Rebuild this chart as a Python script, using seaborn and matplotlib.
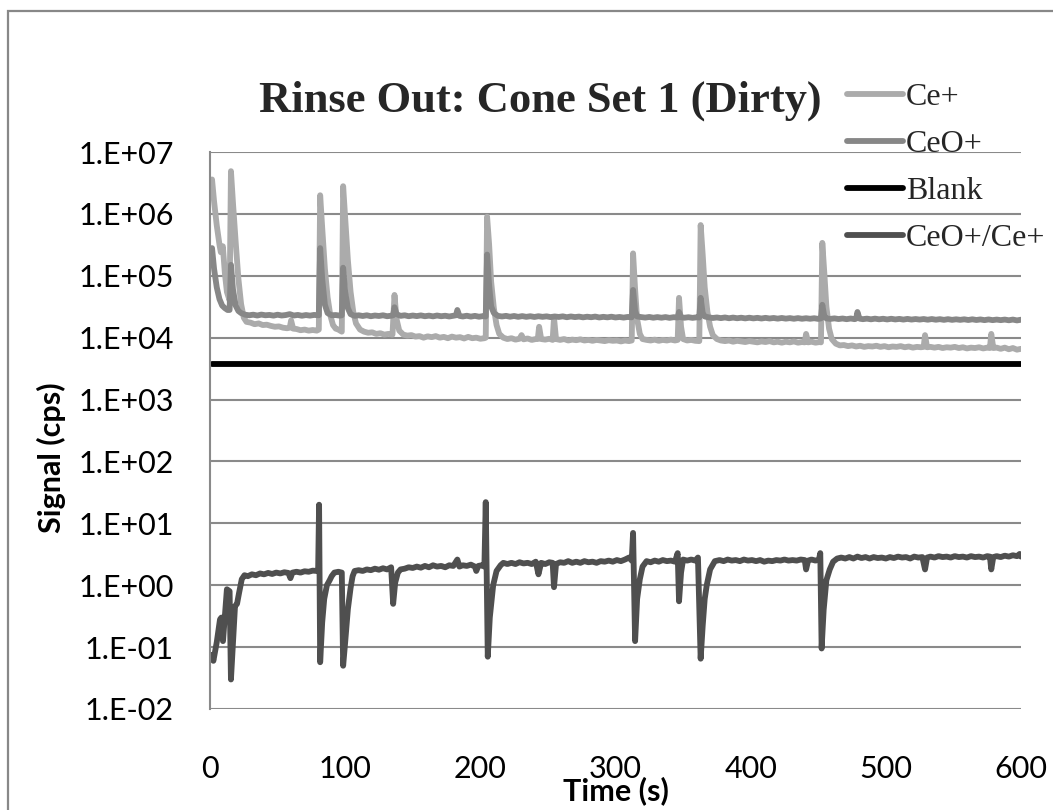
import matplotlib
matplotlib.use("Agg")
import matplotlib.pyplot as plt
import numpy as np
import pandas as pd
import seaborn as sns
from matplotlib.ticker import FixedLocator, FuncFormatter, NullLocator
from matplotlib.patches import Rectangle

# ---------------- data (time s, signal cps) ----------------
title = "Rinse Out: Cone Set 1 (Dirty)"
series_names = ["Ce+", "CeO+", "Blank", "CeO+/Ce+"]
series_colors = ["#ababab", "#878787", "#000000", "#4f4f4f"]
x_ticks = [0, 100, 200, 300, 400, 500, 600]
y_exponents = [-2, -1, 0, 1, 2, 3, 4, 5, 6, 7]

ce_points = [
    (1.5, 3.6e6), (3, 1.6e6), (5, 6.5e5), (7, 3.2e5), (8, 2.4e5), (9.5, 3.0e5), (11, 1.1e5),
    (12.5, 5.5e4), (14.5, 4.0e4), (15.5, 4.9e6), (17, 1.5e6), (19, 3.5e5), (21, 9e4), (23, 3.5e4),
    (25, 2.1e4), (27, 1.8e4), (30, 1.75e4), (33, 1.65e4), (36, 1.7e4), (39, 1.6e4), (42, 1.62e4),
    (45, 1.55e4), (48, 1.5e4), (51, 1.52e4), (54, 1.45e4), (57, 1.42e4), (59, 1.45e4), (60, 1.9e4),
    (61.5, 1.4e4), (64, 1.38e4), (67, 1.32e4), (70, 1.35e4), (73, 1.3e4), (76, 1.33e4), (79, 1.3e4),
    (80.5, 1.35e4), (81.5, 2.0e6), (83, 6e5), (85, 1.3e5), (87, 4.5e4), (89, 2.3e4), (91, 1.6e4),
    (93, 1.4e4), (95, 1.35e4), (97.5, 1.25e4), (98.5, 2.8e6), (100, 8.5e5), (102, 1.8e5),
    (104, 5.5e4), (106, 2.6e4), (108, 1.7e4), (111, 1.35e4), (114, 1.25e4), (117, 1.2e4),
    (120, 1.22e4), (123, 1.15e4), (126, 1.18e4), (129, 1.12e4), (132, 1.15e4), (135, 1.12e4),
    (136.5, 4.9e4), (138, 2.0e4), (140, 1.3e4), (143, 1.12e4), (146, 1.08e4), (149, 1.1e4),
    (152, 1.04e4), (155, 1.06e4), (158, 1.0e4), (161, 1.05e4), (164, 1.02e4), (167, 1.06e4),
    (170, 1.0e4), (173, 1.03e4), (176, 0.98e4), (179, 1.04e4), (182, 1.0e4), (185, 1.02e4),
    (188, 0.97e4), (191, 1.03e4), (194, 0.98e4), (197, 1.0e4), (200, 0.96e4), (203, 0.98e4),
    (204, 1.0e4), (205, 9e5), (206.5, 3.2e5), (208, 8e4), (210, 3e4), (212, 1.6e4), (214, 1.15e4),
    (217, 1.0e4), (220, 0.95e4), (223, 0.98e4), (226, 0.93e4), (229, 0.96e4), (230.5, 1.1e4),
    (232, 0.94e4), (235, 0.97e4), (238, 0.92e4), (241, 0.95e4), (242.5, 0.95e4), (243.5, 1.5e4),
    (245, 0.95e4), (248, 0.93e4), (251, 0.96e4), (253.5, 0.92e4), (254.5, 2.1e4), (256, 0.95e4),
    (259, 0.92e4), (262, 0.95e4), (265, 0.9e4), (268, 0.93e4), (271, 0.91e4), (274, 0.94e4),
    (277, 0.9e4), (280, 0.92e4), (283, 0.89e4), (286, 0.92e4), (289, 0.9e4), (292, 0.88e4),
    (295, 0.91e4), (298, 0.89e4), (301, 0.9e4), (304, 0.87e4), (307, 0.9e4), (310, 0.88e4),
    (312, 0.9e4), (313, 2.3e5), (314.5, 6e4), (316, 2.0e4), (318, 1.15e4), (320, 0.95e4),
    (323, 0.92e4), (326, 0.9e4), (329, 0.93e4), (332, 0.89e4), (335, 0.92e4), (338, 0.9e4),
    (341, 0.93e4), (344, 0.9e4), (346, 0.92e4), (347, 4.4e4), (348.5, 1.5e4), (350, 0.95e4),
    (353, 0.9e4), (356, 0.92e4), (359, 0.89e4), (362, 0.88e4), (363, 6.6e5), (364.5, 2.2e5),
    (366, 6.5e4), (368, 2.6e4), (370, 1.5e4), (372, 1.1e4), (375, 0.95e4), (378, 0.9e4),
    (381, 0.88e4), (384, 0.9e4), (387, 0.86e4), (390, 0.89e4), (393, 0.87e4), (396, 0.85e4),
    (399, 0.88e4), (402, 0.86e4), (405, 0.84e4), (408, 0.87e4), (411, 0.85e4), (414, 0.88e4),
    (417, 0.84e4), (420, 0.86e4), (423, 0.83e4), (426, 0.86e4), (429, 0.84e4), (432, 0.87e4),
    (435, 0.83e4), (438, 0.85e4), (440, 0.84e4), (441, 1.15e4), (442.5, 0.84e4), (445, 0.86e4),
    (448, 0.83e4), (451, 0.85e4), (452, 0.84e4), (453, 3.4e5), (454.5, 1.1e5), (456, 3.2e4),
    (458, 1.4e4), (460, 9.5e3), (463, 8e3), (466, 7.5e3), (469, 7.6e3), (472, 7.3e3), (475, 7.5e3),
    (478, 7.2e3), (481, 7.4e3), (484, 7.1e3), (487, 7.3e3), (490, 7.2e3), (493, 7.4e3),
    (496, 7.1e3), (499, 7.3e3), (502, 7.0e3), (505, 7.2e3), (508, 7.1e3), (511, 7.3e3),
    (514, 7.0e3), (517, 7.2e3), (520, 6.9e3), (523, 7.1e3), (526, 7.0e3), (528, 7.1e3),
    (529, 1.1e4), (530.5, 7.0e3), (533, 7.1e3), (536, 6.9e3), (539, 7.1e3), (542, 6.8e3),
    (545, 7.0e3), (548, 6.9e3), (551, 7.1e3), (554, 6.8e3), (557, 7.0e3), (560, 6.7e3),
    (563, 6.9e3), (566, 6.8e3), (569, 7.0e3), (572, 6.7e3), (575, 6.9e3), (577, 6.8e3),
    (578, 1.15e4), (579.5, 6.8e3), (582, 6.9e3), (585, 6.6e3), (588, 6.9e3), (591, 6.5e3),
    (594, 6.8e3), (597, 6.4e3), (600, 6.6e3),
]

ceo_points = [
    (1.5, 2.8e5), (3, 1.3e5), (5, 6.5e4), (7, 4.2e4), (9, 3.3e4), (11, 3.0e4), (13, 2.8e4),
    (14.5, 2.8e4), (15.5, 1.5e5), (17, 6e4), (19, 3.3e4), (21, 2.7e4), (23, 2.5e4), (26, 2.35e4),
    (29, 2.3e4), (32, 2.35e4), (35, 2.28e4), (38, 2.36e4), (41, 2.3e4), (44, 2.33e4), (47, 2.27e4),
    (50, 2.35e4), (53, 2.28e4), (56, 2.32e4), (59, 2.4e4), (62, 2.28e4), (65, 2.33e4),
    (68, 2.26e4), (71, 2.32e4), (74, 2.27e4), (77, 2.33e4), (80.5, 2.3e4), (81.5, 2.8e5),
    (83, 9e4), (85, 3.4e4), (87, 2.5e4), (90, 2.3e4), (93, 2.32e4), (96, 2.27e4), (97.5, 2.3e4),
    (98.5, 1.35e5), (100, 5.5e4), (102, 3e4), (104, 2.4e4), (107, 2.25e4), (110, 2.3e4),
    (113, 2.24e4), (116, 2.3e4), (119, 2.22e4), (122, 2.28e4), (125, 2.24e4), (128, 2.3e4),
    (131, 2.22e4), (134, 2.26e4), (135.5, 2.3e4), (136.5, 3.1e4), (138, 2.4e4), (141, 2.25e4),
    (144, 2.3e4), (147, 2.22e4), (150, 2.28e4), (153, 2.23e4), (156, 2.29e4), (159, 2.22e4),
    (162, 2.27e4), (165, 2.21e4), (168, 2.28e4), (171, 2.22e4), (174, 2.26e4), (177, 2.2e4),
    (180, 2.26e4), (182, 2.3e4), (183, 2.8e4), (184.5, 2.25e4), (187, 2.2e4), (190, 2.26e4),
    (193, 2.19e4), (196, 2.25e4), (199, 2.18e4), (202, 2.23e4), (204, 2.2e4), (205, 2.2e5),
    (206.5, 7e4), (208, 3.2e4), (210, 2.5e4), (213, 2.25e4), (216, 2.2e4), (219, 2.25e4),
    (222, 2.18e4), (225, 2.24e4), (228, 2.17e4), (231, 2.23e4), (234, 2.17e4), (237, 2.22e4),
    (240, 2.16e4), (243, 2.22e4), (246, 2.17e4), (249, 2.21e4), (252, 2.15e4), (255, 2.2e4),
    (258, 2.16e4), (261, 2.21e4), (264, 2.14e4), (267, 2.2e4), (270, 2.15e4), (273, 2.19e4),
    (276, 2.13e4), (279, 2.18e4), (282, 2.14e4), (285, 2.19e4), (288, 2.12e4), (291, 2.17e4),
    (294, 2.13e4), (297, 2.18e4), (300, 2.12e4), (303, 2.16e4), (306, 2.11e4), (309, 2.16e4),
    (312, 2.13e4), (313, 5.9e4), (314.5, 2.7e4), (316, 2.2e4), (319, 2.15e4), (322, 2.11e4),
    (325, 2.16e4), (328, 2.1e4), (331, 2.15e4), (334, 2.1e4), (337, 2.15e4), (340, 2.09e4),
    (343, 2.14e4), (346, 2.12e4), (347, 2.6e4), (348.5, 2.14e4), (351, 2.1e4), (354, 2.14e4),
    (357, 2.09e4), (360, 2.13e4), (362, 2.12e4), (363, 4.4e4), (364.5, 2.5e4), (366, 2.2e4),
    (369, 2.13e4), (372, 2.08e4), (375, 2.12e4), (378, 2.07e4), (381, 2.12e4), (384, 2.06e4),
    (387, 2.11e4), (390, 2.06e4), (393, 2.1e4), (396, 2.05e4), (399, 2.1e4), (402, 2.05e4),
    (405, 2.09e4), (408, 2.04e4), (411, 2.09e4), (414, 2.04e4), (417, 2.08e4), (420, 2.03e4),
    (423, 2.08e4), (426, 2.03e4), (429, 2.07e4), (432, 2.02e4), (435, 2.07e4), (438, 2.02e4),
    (441, 2.06e4), (444, 2.02e4), (447, 2.06e4), (450, 2.01e4), (452, 2.05e4), (453, 3.4e4),
    (454.5, 2.2e4), (456, 2.05e4), (459, 2.01e4), (462, 2.05e4), (465, 2.0e4), (468, 2.04e4),
    (471, 1.99e4), (474, 2.04e4), (477, 1.99e4), (478, 2.03e4), (479, 2.6e4), (480.5, 2.03e4),
    (483, 1.99e4), (486, 2.03e4), (489, 1.98e4), (492, 2.03e4), (495, 1.98e4), (498, 2.02e4),
    (501, 1.97e4), (504, 2.02e4), (507, 1.97e4), (510, 2.01e4), (513, 1.96e4), (516, 2.01e4),
    (519, 1.96e4), (522, 2.0e4), (525, 1.96e4), (528, 2.0e4), (531, 1.95e4), (534, 2.0e4),
    (537, 1.95e4), (540, 1.99e4), (543, 1.94e4), (546, 1.99e4), (549, 1.94e4), (552, 1.98e4),
    (555, 1.94e4), (558, 1.98e4), (561, 1.93e4), (564, 1.98e4), (567, 1.93e4), (570, 1.97e4),
    (573, 1.92e4), (576, 1.97e4), (579, 1.92e4), (582, 1.96e4), (585, 1.92e4), (588, 1.96e4),
    (591, 1.91e4), (594, 1.96e4), (597, 1.9e4), (600, 1.95e4),
]

blank_points = [(1.5, 3.7e3), (600, 3.7e3)]

ratio_points = [
    (1.5, 0.075), (2.5, 0.06), (5, 0.12), (7.4, 0.28), (8.4, 0.3), (9.6, 0.125), (12.5, 0.86),
    (14.5, 0.8), (15.5, 0.03), (17, 0.12), (18.5, 0.46), (20, 0.5), (21.5, 0.75), (23.5, 1.25),
    (25.5, 1.45), (28, 1.4), (31, 1.5), (34, 1.45), (37, 1.55), (40, 1.5), (43, 1.58), (46, 1.52),
    (49, 1.6), (52, 1.55), (55, 1.62), (58, 1.58), (59.5, 1.3), (61, 1.6), (64, 1.65), (67, 1.6),
    (70, 1.68), (73, 1.65), (76, 1.72), (79, 1.7), (80, 1.75), (80.7, 20), (81.5, 0.057),
    (83, 0.25), (84.5, 0.6), (86.5, 1.0), (88.5, 1.2), (90, 1.4), (92, 1.6), (95, 1.65),
    (97.5, 1.6), (98.5, 0.05), (100, 0.12), (102, 0.41), (104, 0.9), (105.5, 1.4), (107, 1.7),
    (110, 1.75), (113, 1.7), (116, 1.8), (119, 1.75), (122, 1.85), (125, 1.78), (128, 1.88),
    (131, 1.8), (134, 1.95), (135.5, 0.5), (137, 1.1), (139, 1.6), (141, 1.8), (144, 1.85),
    (147, 1.95), (150, 1.9), (153, 2.0), (156, 1.92), (159, 2.05), (162, 1.95), (165, 2.1),
    (168, 2.0), (171, 2.05), (174, 1.95), (177, 2.1), (180, 2.05), (183, 2.6), (184.5, 2.0),
    (187, 2.1), (190, 2.05), (193, 2.15), (196, 2.0), (197, 1.7), (198.5, 2.05), (201, 2.1),
    (203, 2.0), (204, 22), (205.5, 0.07), (207, 0.3), (209.5, 1.0), (212, 1.7), (215, 2.1),
    (217, 2.3), (220, 2.2), (223, 2.3), (226, 2.2), (229, 2.35), (232, 2.25), (235, 2.3),
    (238, 2.2), (241, 2.4), (243, 1.5), (245, 2.3), (248, 2.2), (251, 2.35), (253.5, 2.3),
    (254.5, 0.93), (256, 2.2), (259, 2.35), (262, 2.3), (265, 2.45), (268, 2.3), (271, 2.4),
    (274, 2.3), (277, 2.45), (280, 2.35), (283, 2.4), (286, 2.3), (289, 2.45), (292, 2.4),
    (295, 2.5), (298, 2.4), (301, 2.55), (304, 2.45), (307, 2.6), (310, 2.8), (312, 2.5),
    (313, 7.0), (314.5, 0.125), (316, 0.6), (318, 1.25), (320, 2.0), (323, 2.45), (326, 2.35),
    (329, 2.5), (332, 2.4), (335, 2.55), (338, 2.45), (341, 2.5), (344, 2.4), (346, 3.3),
    (347, 0.55), (348.5, 1.6), (350, 2.6), (353, 2.5), (356, 2.6), (359, 2.5), (361, 2.8),
    (363, 0.065), (364.5, 0.22), (366, 0.6), (367.5, 1.0), (370, 1.8), (373.5, 2.45), (377, 2.55),
    (380, 2.45), (383, 2.6), (386, 2.5), (389, 2.55), (392, 2.45), (395, 2.6), (398, 2.5),
    (401, 2.55), (404, 2.45), (407, 2.55), (410, 2.4), (413, 2.5), (416, 2.45), (419, 2.55),
    (422, 2.5), (425, 2.6), (428, 2.5), (431, 2.55), (434, 2.5), (437, 2.6), (440, 2.55),
    (441, 1.8), (442.5, 2.5), (445, 2.6), (448, 2.5), (450.5, 2.6), (451.5, 3.3), (452.5, 0.095),
    (454, 0.4), (456, 1.2), (458.5, 1.8), (461, 2.4), (464, 2.7), (467, 2.8), (470, 2.7),
    (473, 2.85), (476, 2.7), (479, 2.9), (482, 2.75), (485, 2.85), (488, 2.7), (491, 2.85),
    (494, 2.75), (497, 2.8), (500, 2.7), (503, 2.85), (506, 2.75), (509, 2.9), (512, 2.8),
    (515, 2.85), (518, 2.7), (521, 2.9), (524, 2.8), (527, 2.85), (529, 1.8), (530.5, 2.8),
    (533, 2.9), (536, 2.8), (539, 2.95), (542, 2.85), (545, 2.9), (548, 2.8), (551, 2.95),
    (554, 2.85), (557, 2.9), (560, 2.8), (563, 2.95), (566, 2.85), (569, 2.9), (572, 2.8),
    (575, 2.95), (577, 2.9), (578, 1.8), (579.5, 2.85), (582, 2.95), (585, 2.85), (588, 3.0),
    (591, 2.9), (594, 3.05), (597, 2.95), (599, 3.2), (600, 2.9),
]

# ---------------- build table ----------------
frames = []
for name, pts in zip(series_names, [ce_points, ceo_points, blank_points, ratio_points]):
    d = pd.DataFrame(pts, columns=["time", "signal"])
    d["series"] = name
    frames.append(d)
df = pd.concat(frames, ignore_index=True)

# ---------------- style ----------------
sns.set_theme(style="white")
plt.rcParams["font.family"] = ["Lato", "DejaVu Sans"]

W, H = 1053, 810
fig = plt.figure(figsize=(W / 100, H / 100), dpi=100)
fig.patch.set_facecolor("white")
ax = fig.add_axes([210 / W, 101 / H, 811 / W, 557 / H])
ax.set_facecolor("white")

sns.lineplot(data=df, x="time", y="signal", hue="series", hue_order=series_names,
             palette=dict(zip(series_names, series_colors)), estimator=None, sort=False,
             linewidth=4.2, legend=False, ax=ax)
for ln in ax.lines:
    ln.set_solid_capstyle("round")
    ln.set_solid_joinstyle("round")

ax.set_yscale("log")
ax.set_ylim(1e-2, 1e7)
ax.set_xlim(0, 600)
ax.yaxis.set_major_locator(FixedLocator([10.0 ** e for e in y_exponents]))
ax.yaxis.set_minor_locator(NullLocator())
ax.yaxis.set_major_formatter(FuncFormatter(lambda v, p: "1.E%+03d" % int(round(np.log10(v)))))
ax.xaxis.set_major_locator(FixedLocator(x_ticks))
ax.xaxis.set_major_formatter(FuncFormatter(lambda v, p: "%d" % v))

grid_c = "#8a8a8a"
ax.yaxis.grid(True, color=grid_c, linewidth=1.5)
ax.xaxis.grid(False)
for side in ["top", "right", "bottom"]:
    ax.spines[side].set_visible(False)
ax.spines["left"].set_color(grid_c)
ax.spines["left"].set_linewidth(1.5)

ax.tick_params(axis="y", length=0, pad=26, labelsize=22, labelcolor="black")
ax.tick_params(axis="x", length=0, pad=33, labelsize=22, labelcolor="black")

ax.set_xlabel("Time (s)", fontsize=22, fontweight="bold", color="black")
ax.xaxis.set_label_coords(0.5, -0.147)
ax.xaxis.label.set_va("center")
ax.set_ylabel("Signal (cps)", fontsize=22, fontweight="bold", color="black")
ax.yaxis.set_label_coords(-0.196, 0.452)
ax.yaxis.label.set_va("center")

fig.text(540 / W, 1 - 112 / H, title, ha="center", va="baseline",
         family=["Liberation Serif", "DejaVu Serif"], fontweight="bold", fontsize=32)

leg = ax.legend(ax.lines[:4], series_names, loc="upper left",
                bbox_to_anchor=(847 / W, 1 - 83 / H), bbox_transform=fig.transFigure,
                frameon=False, borderaxespad=0, borderpad=0, handlelength=1.75,
                handletextpad=0.1, labelspacing=0.55,
                prop={"family": ["Liberation Serif", "DejaVu Serif"], "size": 23})

fig.patches.append(Rectangle((8 / W, -0.1), 1.2, (1 - 11 / H) + 0.1, transform=fig.transFigure,
                             fill=False, edgecolor="#888888", linewidth=1.6))

fig.savefig("out.png", dpi=100)
